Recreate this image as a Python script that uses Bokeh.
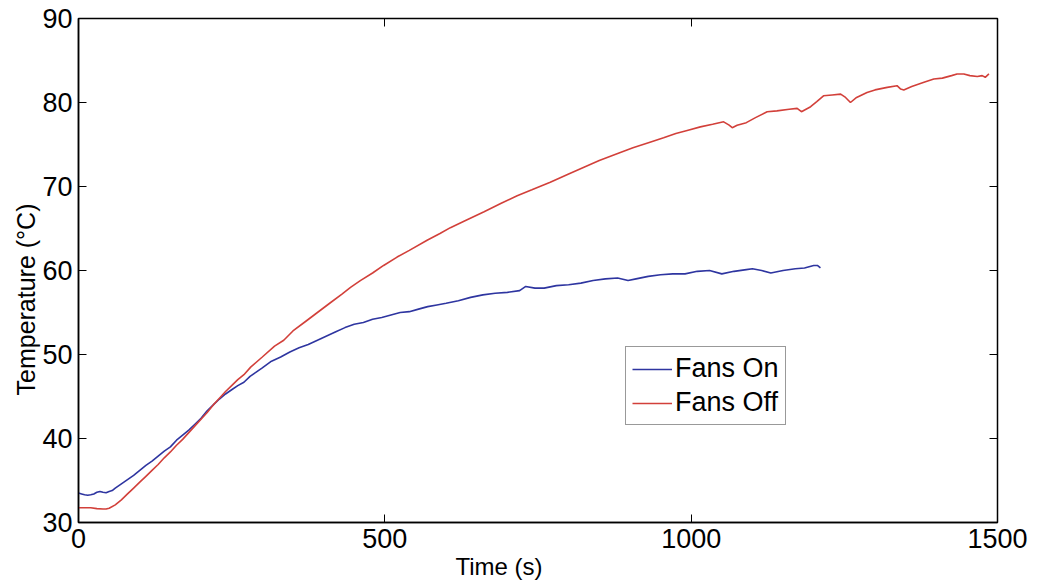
from bokeh.plotting import figure
from bokeh.models import Range1d, LinearAxis, Legend, LegendItem, Title
from bokeh.embed import file_html
from bokeh.resources import INLINE

# Fans On (blue)
on_t = [0, 5, 10, 15, 20, 25, 30, 35, 40, 45, 50, 55, 60, 70, 80, 90, 100, 110, 120, 130,
        140, 150, 160, 170, 180, 190, 200, 210, 220, 230, 240, 250, 260, 270, 280, 290, 300,
        315, 330, 345, 360, 375, 390, 405, 420, 435, 450, 465, 480, 495, 510, 525, 540, 555,
        570, 585, 600, 620, 640, 660, 680, 700, 720, 730, 745, 760, 780, 800, 820, 840, 860,
        880, 897, 910, 930, 950, 970, 990, 1010, 1030, 1050, 1070, 1090, 1100, 1115, 1130,
        1150, 1170, 1185, 1200, 1206, 1211]
on_temp = [33.5, 33.4, 33.3, 33.25, 33.3, 33.4, 33.6, 33.7, 33.6, 33.55, 33.7, 33.8, 34.1,
           34.6, 35.1, 35.6, 36.2, 36.8, 37.3, 37.9, 38.5, 39.0, 39.8, 40.4, 41.0, 41.7, 42.4,
           43.3, 44.0, 44.7, 45.3, 45.8, 46.3, 46.7, 47.4, 47.9, 48.4, 49.2, 49.7, 50.3, 50.8,
           51.2, 51.7, 52.2, 52.7, 53.2, 53.6, 53.8, 54.2, 54.4, 54.7, 55.0, 55.1, 55.4, 55.7,
           55.9, 56.1, 56.4, 56.8, 57.1, 57.3, 57.4, 57.6, 58.1, 57.9, 57.9, 58.2, 58.3, 58.5,
           58.8, 59.0, 59.1, 58.8, 59.0, 59.3, 59.5, 59.6, 59.6, 59.9, 60.0, 59.6, 59.9, 60.1,
           60.2, 60.0, 59.7, 60.0, 60.2, 60.3, 60.6, 60.6, 60.3]

# Fans Off (red)
off_t = [0, 10, 20, 30, 40, 45, 50, 60, 70, 80, 90, 100, 110, 120, 130, 140, 150, 160, 170,
         180, 190, 200, 210, 220, 230, 240, 250, 260, 270, 281, 300, 320, 335, 350, 370, 390,
         410, 430, 444, 460, 480, 498, 520, 540, 569, 590, 607, 630, 662, 690, 716, 740, 770,
         800, 825, 850, 879, 905, 934, 955, 975, 995, 1015, 1035, 1053, 1062, 1067, 1075,
         1090, 1105, 1124, 1140, 1160, 1173, 1180, 1195, 1205, 1216, 1230, 1244, 1252, 1260,
         1270, 1287, 1300, 1320, 1336, 1342, 1347, 1360, 1380, 1396, 1410, 1425, 1434, 1445,
         1455, 1467, 1475, 1480, 1486]
off_temp = [31.75, 31.75, 31.75, 31.65, 31.6, 31.6, 31.7, 32.1, 32.7, 33.4, 34.1, 34.8, 35.5,
            36.2, 36.9, 37.7, 38.4, 39.2, 39.9, 40.7, 41.5, 42.3, 43.1, 44.0, 44.8, 45.6, 46.3,
            47.0, 47.6, 48.5, 49.7, 51.0, 51.7, 52.8, 53.9, 55.0, 56.1, 57.2, 58.0, 58.8, 59.7,
            60.6, 61.6, 62.4, 63.6, 64.4, 65.1, 65.9, 67.0, 68.0, 68.9, 69.6, 70.5, 71.5, 72.3,
            73.1, 73.9, 74.6, 75.3, 75.8, 76.3, 76.7, 77.1, 77.4, 77.7, 77.3, 77.0, 77.3, 77.6,
            78.2, 78.9, 79.0, 79.2, 79.3, 78.9, 79.5, 80.1, 80.8, 80.9, 81.0, 80.6, 80.0, 80.6,
            81.2, 81.5, 81.8, 82.0, 81.6, 81.5, 81.9, 82.4, 82.8, 82.9, 83.2, 83.4, 83.4, 83.2,
            83.1, 83.2, 83.0, 83.4]

x_ticks = [0, 500, 1000, 1500]
y_ticks = [30, 40, 50, 60, 70, 80, 90]
series_names = ["Fans On", "Fans Off"]
x_title = "Time (s)"
y_title = "Temperature (°C)"

FONT = "Liberation Sans"

p = figure(width=1037, height=588, output_backend="svg", toolbar_location=None,
           x_range=Range1d(0, 1500), y_range=Range1d(30, 90),
           min_border_left=78, min_border_right=40, min_border_top=18, min_border_bottom=66)
p.background_fill_color = "white"
p.border_fill_color = "white"
p.outline_line_color = "black"
p.outline_line_width = 1.5
p.xgrid.visible = False
p.ygrid.visible = False

for ax in (p.xaxis[0], p.yaxis[0]):
    ax.major_tick_in = 8
    ax.major_tick_out = 0
    ax.minor_tick_line_color = None
    ax.axis_line_color = "black"
    ax.axis_line_width = 1.5
    ax.major_tick_line_color = "black"
    ax.major_label_text_font = FONT
    ax.major_label_text_font_size = "27px"
    ax.major_label_text_color = "black"
p.xaxis[0].ticker = x_ticks
p.yaxis[0].ticker = y_ticks
p.xaxis[0].major_label_standoff = 6
p.yaxis[0].major_label_standoff = 6

top = LinearAxis(ticker=x_ticks, major_tick_in=8, major_tick_out=0,
                 minor_tick_line_color=None, major_label_text_color=None,
                 major_label_text_font_size="1px", axis_line_color="black")
right = LinearAxis(ticker=y_ticks, major_tick_in=8, major_tick_out=0,
                   minor_tick_line_color=None, major_label_text_color=None,
                   major_label_text_font_size="1px", axis_line_color="black")
p.add_layout(top, "above")
p.add_layout(right, "right")

r_on = p.line(on_t, on_temp, line_color="#2e35a0", line_width=1.6)
r_off = p.line(off_t, off_temp, line_color="#d2403a", line_width=1.6)

legend = Legend(items=[LegendItem(label=series_names[0], renderers=[r_on]),
                       LegendItem(label=series_names[1], renderers=[r_off])],
                location=(547, 97))
legend.label_text_font = FONT
legend.label_text_font_size = "27px"
legend.label_text_color = "black"
legend.glyph_width = 40
legend.glyph_height = 30
legend.label_height = 30
legend.label_standoff = 3
legend.spacing = 3
legend.padding = 6
legend.margin = 0
legend.border_line_color = "#333333"
legend.border_line_width = 1.5
legend.background_fill_alpha = 1.0
p.add_layout(legend, "center")

p.add_layout(Title(text=x_title, align="left", offset=377, text_font=FONT,
                   text_font_size="24px", text_font_style="normal", text_color="black",
                   standoff=0), "below")
p.add_layout(Title(text=y_title, align="left", offset=127, text_font=FONT,
                   text_font_size="25px", text_font_style="normal", text_color="black",
                   standoff=0), "left")

open("out.html", "w").write(file_html(p, INLINE))
